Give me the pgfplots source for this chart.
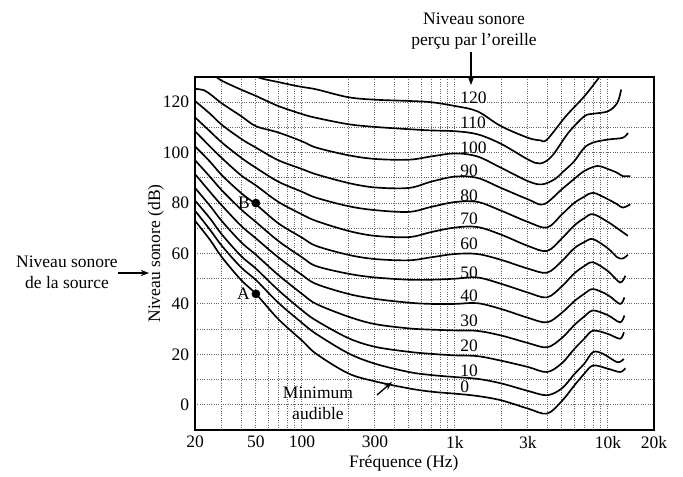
\documentclass[border=0pt]{standalone}
\usepackage{fontspec}
\setmainfont{Liberation Serif}
\usepackage{pgfplots}
\pgfplotsset{compat=1.18}
\usetikzlibrary{calc,arrows.meta}

\begin{document}
\begin{tikzpicture}[font=\fontsize{10.5}{12.5}\selectfont]
\begin{axis}[
    name=ax,
    scale only axis,
    width=275.4pt, height=211.8pt,
    xmode=log,
    xmin=20, xmax=20000,
    ymin=-10, ymax=130,
    xtick={20,50,100,300,1000,3000,10000,20000},
    xticklabels={20,50,100,300,1k,3k,10k,20k},
    minor xtick={30,40,60,70,80,90,200,400,500,600,700,800,900,2000,4000,5000,6000,7000,8000,9000},
    ytick={0,20,...,120},
    minor ytick={-10,10,30,...,110},
    grid=both,
    major grid style={densely dotted, black!60, line width=0.6pt},
    minor grid style={densely dotted, black!60, line width=0.6pt},
    major tick length=0pt, minor tick length=0pt,
    axis line style={line width=0.9pt},
    /pgf/number format/assume math mode=true,
    xlabel={Fréquence (Hz)},
    ylabel={Niveau sonore (dB)},
    xlabel style={at={(axis description cs:0.455,-0.055)}, anchor=north},
    ylabel style={at={(axis description cs:-0.085,0.5)}, anchor=center},
    curve/.style={black, line width=1pt, smooth, tension=0.55},
]

% 0
\addplot[curve] coordinates {
 (20,73) (25,65.5) (30,58.5) (40,49.5) (50,44) (70,34) (100,25.5) (124,20.2)
 (200,12.5) (300,9.3) (500,6.5) (700,5.2) (1000,4.4) (1400,3.5) (2000,1.8)
 (3000,-1.5) (4000,-3.5) (5000,1.5) (6000,7.5) (7000,12.3) (8000,15.6)
 (10000,14.3) (12000,13) (13000,14.5)};
% 10
\addplot[curve] coordinates {
 (20,77) (25,69.5) (30,63) (40,54.5) (50,49.5) (70,40.5) (100,32.5) (124,28.1)
 (200,20.5) (300,16.3) (500,13) (700,11.8) (1000,11) (1400,10.3) (2000,8.5)
 (3000,5.5) (4000,3.8) (5000,6.5) (6000,12) (7000,16.3) (8000,20.9)
 (9300,20.2) (11500,16.9) (12700,18.2)};
% 20
\addplot[curve] coordinates {
 (20,81) (25,74) (30,67.5) (40,59) (50,54) (70,45.5) (100,37.5) (124,33.4)
 (200,26.5) (300,23) (500,21) (700,20.2) (1000,19.6) (1400,19.3) (2000,17.5)
 (3000,15) (4000,13) (5000,16.5) (6000,22) (7000,26.2) (8000,29.4)
 (10000,28.1) (12000,26.2) (12700,28.8)};
% 30
\addplot[curve] coordinates {
 (20,86) (25,79) (30,72.8) (40,64.5) (50,59.5) (70,51.5) (100,44) (124,40)
 (200,35) (300,32) (500,30.3) (700,29.8) (1000,29.5) (1400,29.3) (2000,27.5)
 (3000,24.5) (4000,22.8) (5000,26.5) (6000,31.5) (7000,35) (8000,37.4)
 (10000,35.5) (12000,32.7) (12800,35.4)};
% 40
\addplot[curve] coordinates {
 (20,91.5) (25,84.5) (30,79) (40,71) (50,66) (70,58.5) (100,51.5) (124,47.9)
 (200,44) (300,42) (500,40.5) (700,40) (1000,40) (1400,40.3) (2000,38)
 (3000,34.5) (4000,32.7) (5000,36.5) (6000,41) (7000,44) (8000,45.9)
 (10000,43.5) (12000,40) (12800,42.6)};
% 50
\addplot[curve] coordinates {
 (20,97) (25,90.5) (30,85) (40,77.5) (50,72.5) (70,65) (100,58.5) (124,55)
 (200,52) (300,50.5) (500,49.6) (700,49.6) (1000,50) (1400,50.5) (2000,48)
 (3000,44.5) (4000,42.6) (5000,47) (6000,52) (7000,55) (8000,56.5)
 (10000,53) (12000,48.5) (13000,51.2)};
% 60
\addplot[curve] coordinates {
 (20,102.5) (25,96.5) (30,91) (40,84) (50,79.5) (70,72) (100,66.3) (124,63)
 (200,59.5) (300,57.8) (500,57.3) (700,58.5) (1000,59.8) (1400,59.8) (2000,57.5)
 (3000,54) (4000,52.4) (5000,57) (6000,62) (7000,64.5) (8000,65.7)
 (10000,62) (11500,58.5) (12500,58) (13500,59.5)};
% 70
\addplot[curve] coordinates {
 (20,108.5) (25,102.5) (30,97.8) (40,91) (50,87) (70,80.5) (100,75.5) (124,72.9)
 (200,69) (300,67) (500,66.5) (700,68.5) (1000,70.3) (1400,70.5) (2000,67.5)
 (3000,63) (4000,61) (5000,66) (6000,71) (7000,74) (8000,75.6)
 (10000,72.5) (11500,70) (13500,67)};
% 80
\addplot[curve] coordinates {
 (20,114) (25,108.5) (30,104) (40,98) (50,94) (70,88.5) (100,84.5) (124,82.1)
 (200,78.8) (300,77.2) (500,76.5) (700,78.5) (1000,80.4) (1400,80.5) (2000,77)
 (3000,72.5) (4000,70.3) (5000,75.5) (6000,80) (7000,82.5) (8000,84.1)
 (10000,81.5) (11500,79.5) (12500,78.2) (14000,79.5)};
% 90
\addplot[curve] coordinates {
 (20,120.5) (25,115.5) (30,111) (40,105.5) (50,102) (70,97) (100,93.5) (124,91.4)
 (200,88) (300,86.2) (500,86) (700,88.5) (1000,90.5) (1400,90) (2000,86)
 (3000,81.5) (3800,79.5) (5000,85.5) (6000,89.5) (7000,92.7) (8500,94.7)
 (10000,93.5) (11500,92) (12500,90.7) (14000,90.7)};
% 100
\addplot[curve] coordinates {
 (20,125.3) (23,124.7) (26,122.5) (30,119.5) (40,114.5) (50,110.5) (70,108)
 (100,104.5) (124,102) (200,99) (300,97.5) (500,97.2) (700,98.5) (1000,99.7)
 (1400,98.5) (2000,94) (3000,88.7) (3700,87.4) (4500,89.5) (5000,92)
 (6000,96.5) (7000,101.9) (8000,104) (10000,105.2) (12500,105.9) (13500,107.8)};
% 110
\addplot[curve] coordinates {
 (24,133) (27,130.5) (30,128.5) (40,125) (50,122.5) (70,118.5) (100,115.3)
 (124,113.8) (200,111.3) (300,110.2) (500,109.3) (700,108.8) (1000,108.5)
 (1400,107.3) (2000,103.5) (3000,97.3) (3600,95.7) (4300,98.6) (5500,107.8)
 (7000,114.4) (8000,115.4) (10000,116.4) (11500,119.7) (12200,125)};
% 120
\addplot[curve] coordinates {
 (40,134) (51,130) (70,128) (95,126.3) (124,125.1) (200,122) (300,121)
 (500,120.5) (700,120) (1000,118.5) (1400,116.4) (2000,110.5) (3000,105.9)
 (3600,104.9) (4000,105.2) (5300,114.4) (7000,122.3) (8800,130) (9500,133)};

% points A and B
\addplot[only marks, mark=*, mark size=2.4pt, black] coordinates {(50,44) (50,80)};
\node[anchor=east, inner sep=1pt] at (axis cs:47,44) {A};
\node[anchor=east, inner sep=1pt] at (axis cs:47,80) {B};

% phon labels
\node[anchor=west, inner sep=0pt] at (axis cs:1080,121.9) {120};
\node[anchor=west, inner sep=0pt] at (axis cs:1080,112) {110};
\node[anchor=west, inner sep=0pt] at (axis cs:1080,101.9) {100};
\node[anchor=west, inner sep=0pt] at (axis cs:1080,92.7) {90};
\node[anchor=west, inner sep=0pt] at (axis cs:1080,82.8) {80};
\node[anchor=west, inner sep=0pt] at (axis cs:1080,73.7) {70};
\node[anchor=west, inner sep=0pt] at (axis cs:1080,63.8) {60};
\node[anchor=west, inner sep=0pt] at (axis cs:1080,52.5) {50};
\node[anchor=west, inner sep=0pt] at (axis cs:1080,43.2) {40};
\node[anchor=west, inner sep=0pt] at (axis cs:1080,33.4) {30};
\node[anchor=west, inner sep=0pt] at (axis cs:1080,23.5) {20};
\node[anchor=west, inner sep=0pt] at (axis cs:1080,13.6) {10};
\node[anchor=west, inner sep=0pt] at (axis cs:1080,7) {0};
\end{axis}

% annotations, in pixels of the reference picture
\begin{scope}[shift={($(ax.south west)+(-117pt,258pt)$)}, x=0.6pt, y=-0.6pt]
  \path (0,0) rectangle (683,471);
  \node[align=center] at (474,31) {Niveau sonore\\perçu par l'oreille};
  \draw[line width=0.8pt, -{Stealth[length=5pt]}] (471,52) -- (471,85);
  \node[align=center] at (67,272) {Niveau sonore\\de la source};
  \draw[line width=0.8pt, -{Stealth[length=5pt]}] (118,273) -- (149,273);
  \node[align=center] at (318,403) {Minimum\\audible};
  \draw[line width=0.8pt, -{Stealth[length=5pt]}] (377,395) -- (392,382);
\end{scope}
\end{tikzpicture}
\end{document}
